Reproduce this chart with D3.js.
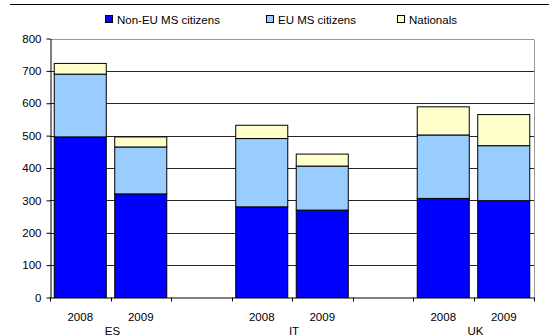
<!DOCTYPE html>
<html><head><meta charset="utf-8">
<script src="https://cdn.jsdelivr.net/npm/d3@7"></script>
<style>body{margin:0;background:#fff}svg{display:block;font-family:"Liberation Sans",Arial,sans-serif}</style>
</head><body><svg id="c" width="549" height="336"></svg>
<script>
const slots = ["ES|2008","ES|2009","gap1","IT|2008","IT|2009","gap2","UK|2008","UK|2009"];
const countries = ["ES","IT","UK"];
const years = ["2008","2009"];
const seriesNames = ["Non-EU MS citizens","EU MS citizens","Nationals"];
const colors = ["#0000FF","#99CCFF","#FFFFCC"];
const nonEU = [496, 320, 280, 270, 306, 299];
const eu = [194, 145, 211, 136, 196, 170];
const nationals = [33, 31, 41, 37, 87, 96];
const yTicks = [0,100,200,300,400,500,600,700,800];

(function(){
const svg = d3.select("#c");
const pL = 50, pR = 534, pT = 38.5, pB = 297.5;
const x = d3.scaleBand().domain(slots).range([pL, pR]).paddingInner(0.14).paddingOuter(0.07);
const xs = d3.scaleBand().domain(slots).range([pL, pR]);
const y = d3.scaleLinear().domain([0, 800]).range([pB, pT]);

svg.append("line").attr("x1",10).attr("x2",549).attr("y1",4.5).attr("y2",4.5).attr("stroke","#000").attr("stroke-width",1);

svg.append("g").selectAll("line").data(yTicks.slice(1)).join("line")
  .attr("x1",pL).attr("x2",pR).attr("y1",d=>Math.round(y(d))+0.5).attr("y2",d=>Math.round(y(d))+0.5)
  .attr("stroke","#000").attr("stroke-width",1).attr("opacity",0.85);
svg.append("line").attr("x1",pR+0.5).attr("x2",pR+0.5).attr("y1",Math.round(pT)+0.5).attr("y2",pB).attr("stroke","#999");
svg.append("line").attr("x1",pL).attr("x2",pR).attr("y1",Math.round(pT)+0.5).attr("y2",Math.round(pT)+0.5).attr("stroke","#999");

const dataSlots = slots.filter(s => !s.startsWith("gap"));
const rows = dataSlots.map((s,i)=>({slot:s, v:[nonEU[i], eu[i], nationals[i]]}));
rows.forEach(r=>{
  let acc = 0;
  r.v.forEach((v,k)=>{
    svg.append("rect")
      .attr("x", x(r.slot)).attr("width", x.bandwidth())
      .attr("y", y(acc+v)).attr("height", y(acc)-y(acc+v))
      .attr("fill", colors[k]).attr("stroke","#000").attr("stroke-width",1);
    acc += v;
  });
});

const ya = svg.append("g").attr("transform",`translate(${pL+0.5},0)`)
  .call(d3.axisLeft(y).tickValues(yTicks).tickSize(4).tickSizeOuter(0));
ya.select(".domain").attr("stroke","#000");
ya.selectAll("text").attr("font-size",11.5).attr("fill","#000").attr("font-family","Liberation Sans, Arial, sans-serif").attr("dx","-2");
svg.append("line").attr("x1",pL).attr("x2",pR).attr("y1",pB+0.5).attr("y2",pB+0.5).attr("stroke","#000");
const bounds = slots.map(s=>xs(s)).concat([pR]);
svg.append("g").selectAll("line").data(bounds).join("line")
  .attr("x1",d=>Math.round(d)+0.5).attr("x2",d=>Math.round(d)+0.5).attr("y1",pB).attr("y2",pB+4).attr("stroke","#000");
svg.append("g").selectAll("text").data(dataSlots).join("text")
  .attr("x",d=>xs(d)+xs.bandwidth()/2).attr("y",321).attr("text-anchor","middle").attr("font-size",11.5)
  .text(d=>d.split("|")[1]);
svg.append("g").selectAll("text").data(countries).join("text")
  .attr("x",c=>xs(c+"|2009")+2).attr("y",335).attr("text-anchor","middle").attr("font-size",11.5)
  .text(c=>c);

const legX = [105, 266, 397];
const lg = svg.append("g").selectAll("g").data(seriesNames).join("g")
  .attr("transform",(d,i)=>`translate(${legX[i]},15)`);
lg.append("rect").attr("x",0.5).attr("y",0.5).attr("width",7).attr("height",7).attr("fill",(d,i)=>colors[i]).attr("stroke","#000");
lg.append("text").attr("x",12).attr("y",8.5).attr("font-size",11.5).text(d=>d);
})();
</script></body></html>
